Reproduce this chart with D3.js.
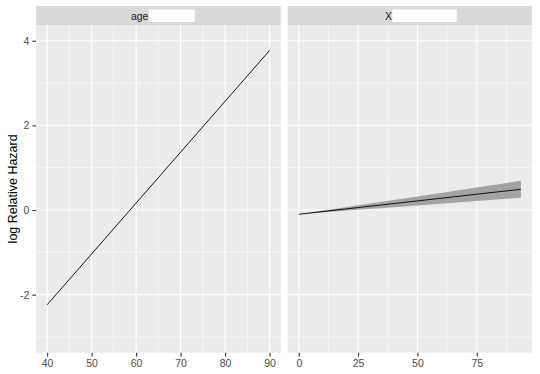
<!DOCTYPE html>
<html>
<head>
<meta charset="utf-8">
<script src="https://cdn.jsdelivr.net/npm/d3@7.9.0/dist/d3.min.js"></script>
<style>
  body { margin: 0; background: #fff; }
  svg { display: block; font-family: "Liberation Sans", Arial, sans-serif; }
</style>
</head>
<body>
<svg id="chart" width="540" height="374"></svg>
<script>
// age panel
const ageX = [40, 90];
const ageFit = [-2.24, 3.77];
const ageTicks = [40, 50, 60, 70, 80, 90];

// X panel
const xVals = [0, 25, 50, 75, 93.6];
const xFit = [-0.1, 0.058, 0.215, 0.373, 0.49];
const xLower = [-0.1, 0.005, 0.108, 0.213, 0.29];
const xUpper = [-0.1, 0.111, 0.322, 0.533, 0.69];
const xTicks = [0, 25, 50, 75];

const yTicks = [-2, 0, 2, 4];
const yLimits = [-3.02, 4.02];

const svg = d3.select('#chart');

const panelTop = 25, panelBottom = 352.7;
const stripTop = 6;

// expand like ggplot (5%)
function expand(d) {
  const r = d[1] - d[0];
  return [d[0] - r * 0.05, d[1] + r * 0.05];
}

const y = d3.scaleLinear().domain(expand(yLimits)).range([panelBottom, panelTop]);

const panels = [
  { label: 'age', left: 36, right: 280.7, xdom: expand([40, 90]), ticks: ageTicks,
    minor: [35, 45, 55, 65, 75, 85, 95], maskW: 46, labelOff: -27.4 },
  { label: 'X', left: 287.7, right: 532, xdom: expand([0, 93.6]), ticks: xTicks,
    minor: [12.5, 37.5, 62.5, 87.5], maskW: 64.3, labelOff: -24.8 }
];

const yMinor = [-3, -1, 1, 3];
const fmt = d => String(d);

panels.forEach((p, i) => {
  const x = d3.scaleLinear().domain(p.xdom).range([p.left, p.right]);
  p.x = x;
  const g = svg.append('g');

  g.append('rect')
    .attr('x', p.left).attr('y', panelTop)
    .attr('width', p.right - p.left).attr('height', panelBottom - panelTop)
    .attr('fill', '#EBEBEB');

  // minor grid
  g.selectAll('.vmin').data(p.minor.filter(v => v > p.xdom[0] && v < p.xdom[1])).join('line')
    .attr('x1', d => x(d)).attr('x2', d => x(d))
    .attr('y1', panelTop).attr('y2', panelBottom)
    .attr('stroke', '#fff').attr('stroke-width', 0.55);
  g.selectAll('.hmin').data(yMinor).join('line')
    .attr('class', 'hmin')
    .attr('x1', p.left).attr('x2', p.right)
    .attr('y1', d => y(d)).attr('y2', d => y(d))
    .attr('stroke', '#fff').attr('stroke-width', 0.55);
  // major grid
  g.selectAll('.vmaj').data(p.ticks).join('line')
    .attr('class', 'vmaj')
    .attr('x1', d => x(d)).attr('x2', d => x(d))
    .attr('y1', panelTop).attr('y2', panelBottom)
    .attr('stroke', '#fff').attr('stroke-width', 1.1);
  g.selectAll('.hmaj').data(yTicks).join('line')
    .attr('class', 'hmaj')
    .attr('x1', p.left).attr('x2', p.right)
    .attr('y1', d => y(d)).attr('y2', d => y(d))
    .attr('stroke', '#fff').attr('stroke-width', 1.1);

  // strip
  const cx = (p.left + p.right) / 2;
  g.append('rect')
    .attr('x', p.left).attr('y', stripTop)
    .attr('width', p.right - p.left).attr('height', panelTop - stripTop)
    .attr('fill', '#D9D9D9');
  const lab = g.append('text')
    .attr('x', cx + p.labelOff).attr('y', 19.5)
    .attr('font-size', 10.5).attr('fill', '#1A1A1A')
    .text(p.label);
  const tw = lab.node().getComputedTextLength();
  g.append('rect')
    .attr('x', cx + p.labelOff + tw + 0.3).attr('y', 9.5)
    .attr('width', p.maskW).attr('height', 12.5)
    .attr('fill', '#fff');

  // x axis
  const xAxis = svg.append('g')
    .attr('transform', `translate(0,${panelBottom})`)
    .call(d3.axisBottom(x).tickValues(p.ticks).tickFormat(fmt).tickSize(3.7).tickPadding(3));
  xAxis.select('.domain').remove();
  xAxis.selectAll('line').attr('stroke', '#333').attr('stroke-width', 1.1);
  xAxis.selectAll('text').attr('fill', '#4D4D4D').attr('font-size', 10.5)
    .attr('font-family', '"Liberation Sans", Arial, sans-serif');
});

// y axis
const yAxis = svg.append('g')
  .attr('transform', `translate(${panels[0].left},0)`)
  .call(d3.axisLeft(y).tickValues(yTicks).tickFormat(fmt).tickSize(3.7).tickPadding(3));
yAxis.select('.domain').remove();
yAxis.selectAll('line').attr('stroke', '#333').attr('stroke-width', 1.1);
yAxis.selectAll('text').attr('fill', '#4D4D4D').attr('font-size', 10.5)
  .attr('font-family', '"Liberation Sans", Arial, sans-serif');

svg.append('text')
  .attr('transform', `translate(17,${(panelTop + panelBottom) / 2}) rotate(-90)`)
  .attr('text-anchor', 'middle')
  .attr('font-size', 12.5).attr('fill', '#000')
  .text('log Relative Hazard');

// age line
const pa = panels[0];
const ageData = ageX.map((v, i) => ({ x: v, y: ageFit[i] }));
svg.append('path')
  .datum(ageData)
  .attr('d', d3.line().x(d => pa.x(d.x)).y(d => y(d.y)))
  .attr('fill', 'none').attr('stroke', '#000').attr('stroke-width', 0.9);

// X ribbon + line
const px = panels[1];
const xData = xVals.map((v, i) => ({ x: v, fit: xFit[i], lo: xLower[i], hi: xUpper[i] }));
svg.append('path')
  .datum(xData)
  .attr('d', d3.area().x(d => px.x(d.x)).y0(d => y(d.lo)).y1(d => y(d.hi)))
  .attr('fill', '#A3A3A3');
svg.append('path')
  .datum(xData)
  .attr('d', d3.line().x(d => px.x(d.x)).y(d => y(d.fit)))
  .attr('fill', 'none').attr('stroke', '#000').attr('stroke-width', 0.9);
</script>
</body>
</html>
